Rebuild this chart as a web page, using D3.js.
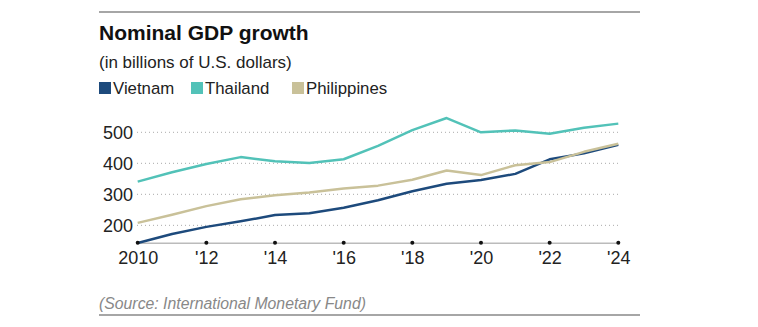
<!DOCTYPE html>
<html>
<head>
<meta charset="utf-8">
<script src="https://cdn.jsdelivr.net/npm/d3@7"></script>
<style>
  body { margin: 0; background: #fff; }
  svg text { font-family: "Liberation Sans", Arial, sans-serif; }
</style>
</head>
<body>
<div id="chart"></div>
<script>
// nominal GDP, billions of US dollars
const years = d3.range(2010, 2025);
const vietnam = [143, 172, 195, 213, 233, 239, 257, 281, 310, 334, 346, 366, 413, 432, 460];
const thailand = [341, 371, 398, 420, 407, 401, 413, 456, 507, 546, 500, 506, 495, 515, 528];
const philippines = [208, 234, 262, 284, 297, 306, 319, 328, 347, 377, 362, 394, 404, 437, 463];
const yTicks = [200, 300, 400, 500];
const xTicks = [2010, 2012, 2014, 2016, 2018, 2020, 2022, 2024];

const series = [
  {name: 'Vietnam', values: vietnam, color: '#1d4a7c'},
  {name: 'Thailand', values: thailand, color: '#52c2b8'},
  {name: 'Philippines', values: philippines, color: '#c9c199'}
];

const svg = d3.select('#chart')
      .append('svg')
      .attr('width', 758)
      .attr('height', 327);

// rule on top and bottom
svg.append('line').attr('x1', 99).attr('x2', 640).attr('y1', 12).attr('y2', 12)
   .attr('stroke', '#888').attr('stroke-width', 1.5);
svg.append('line').attr('x1', 99).attr('x2', 640).attr('y1', 315).attr('y2', 315)
   .attr('stroke', '#888').attr('stroke-width', 1.5);

svg.append('text').attr('x', 99).attr('y', 40)
   .attr('font-size', 21).attr('font-weight', 'bold').attr('fill', '#111')
   .text('Nominal GDP growth');
svg.append('text').attr('x', 99).attr('y', 68)
   .attr('font-size', 17).attr('fill', '#222')
   .text('(in billions of U.S. dollars)');

// legend
const legendX = [99, 191, 292];
const legend = svg.selectAll('.legend')
      .data(series)
      .enter()
      .append('g')
      .attr('class', 'legend')
      .attr('transform', function(d, i){ return 'translate(' + legendX[i] + ',82)'; });
legend.append('rect').attr('width', 12).attr('height', 12).attr('y', 0)
      .attr('fill', function(d){ return d.color; });
legend.append('text').attr('x', 14).attr('y', 12)
      .attr('font-size', 16.8).attr('fill', '#222')
      .text(function(d){ return d.name; });

// scales
const xScale = d3.scaleLinear()
        .domain([2010, 2024])
        .range([137.7, 618.3]);
const yScale = d3.scaleLinear()
        .domain([144, 550])
        .range([242.7, 116.8]);

// dotted gridlines
svg.selectAll('.grid')
   .data(yTicks)
   .enter()
   .append('line')
   .attr('class', 'grid')
   .attr('x1', 137).attr('x2', 618)
   .attr('y1', function(d){ return yScale(d); })
   .attr('y2', function(d){ return yScale(d); })
   .attr('stroke', '#aaa').attr('stroke-width', 1)
   .attr('stroke-dasharray', '1,3');

// y axis labels
const yAxis = d3.axisLeft(yScale).tickValues(yTicks).tickSize(0).tickPadding(4);
const yAxisG = svg.append('g')
      .attr('transform', 'translate(137,0)')
      .call(yAxis);
yAxisG.select('.domain').remove();
yAxisG.selectAll('text').attr('font-size', 18).attr('fill', '#222')
      .style('font-family', '"Liberation Sans", Arial, sans-serif');

// x axis
const xAxis = d3.axisBottom(xScale)
      .tickValues(xTicks)
      .tickSize(0)
      .tickPadding(9)
      .tickFormat(function(d){ return d === 2010 ? '2010' : "'" + String(d).slice(2); });
const xAxisG = svg.append('g')
      .attr('transform', 'translate(0,' + yScale(144) + ')')
      .call(xAxis);
xAxisG.select('.domain').attr('stroke', '#bbb').attr('stroke-width', 1.5);
xAxisG.selectAll('text').attr('font-size', 18).attr('fill', '#222')
      .style('font-family', '"Liberation Sans", Arial, sans-serif');

// lines
const line = d3.line()
      .x(function(d, i){ return xScale(years[i]); })
      .y(function(d){ return yScale(d); });

svg.selectAll('.series')
   .data(series)
   .enter()
   .append('path')
   .attr('class', 'series')
   .attr('d', function(d){ return line(d.values); })
   .attr('fill', 'none')
   .attr('stroke', function(d){ return d.color; })
   .attr('stroke-width', 2.5)
   .attr('stroke-linejoin', 'round');

// tick dots on the axis
svg.selectAll('.tickdot')
   .data(xTicks)
   .enter()
   .append('circle')
   .attr('class', 'tickdot')
   .attr('cx', function(d){ return xScale(d); })
   .attr('cy', yScale(144))
   .attr('r', 2)
   .attr('fill', '#111');

svg.append('text').attr('x', 99).attr('y', 309)
   .attr('font-size', 15.8).attr('font-style', 'italic').attr('fill', '#888')
   .text('(Source: International Monetary Fund)');
</script>
</body>
</html>
